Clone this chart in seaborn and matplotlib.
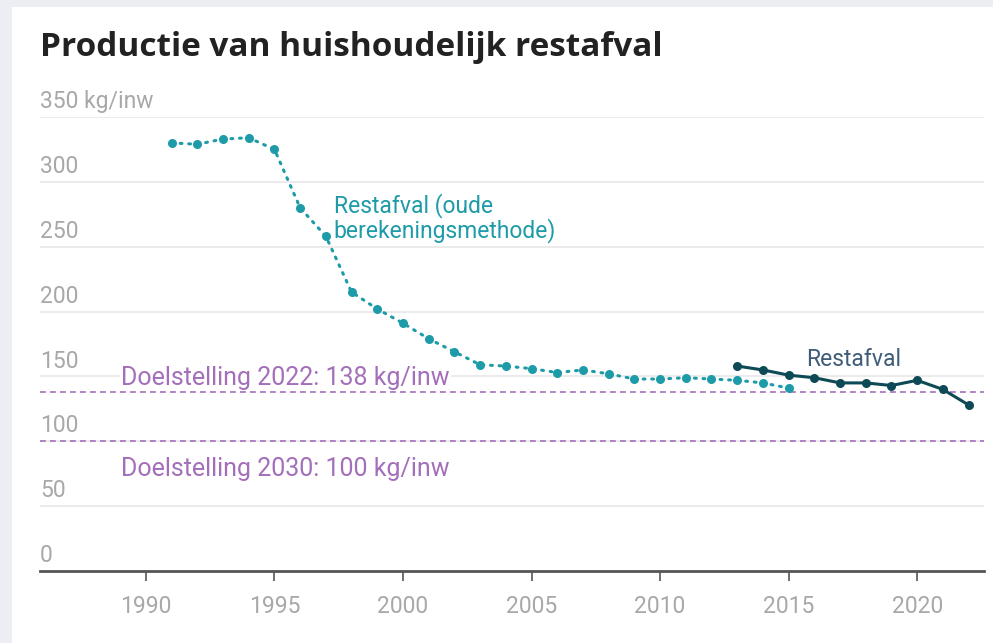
import pandas as pd
import numpy as np
import matplotlib
matplotlib.use('Agg')
import matplotlib.pyplot as plt
import matplotlib.transforms as mtransforms
from matplotlib.patches import Rectangle
import seaborn as sns

# Data
years_old = list(range(1991, 2016))
restafval_old = [330, 329, 333, 334, 325, 280, 258, 215, 202, 191, 179, 169, 159,
                 158, 156, 153, 155, 152, 148, 148, 149, 148, 147, 145, 141]
years_new = list(range(2013, 2023))
restafval_new = [158, 155, 151, 149, 145, 145, 143, 147, 140, 128]
y_ticks = [0, 50, 100, 150, 200, 250, 300, 350]
x_ticks = [1990, 1995, 2000, 2005, 2010, 2015, 2020]
target_2022 = 138
target_2030 = 100

TEAL = '#1d9ba8'
DARK = '#0e4a55'
SLATE = '#3f5d78'
PURPLE = '#a46fba'
GREY = '#a8a8a8'
FS = 16.5

sns.set_style('white')
plt.rcParams['font.family'] = ['Roboto', 'DejaVu Sans']

df_old = pd.DataFrame({'jaar': years_old, 'kg': restafval_old})
df_new = pd.DataFrame({'jaar': years_new, 'kg': restafval_new})

fig = plt.figure(figsize=(9.93, 6.43), dpi=100)
fig.patch.set_facecolor('#eceef3')
# white card behind the chart
fig.patches.append(Rectangle((12 / 993, 0), 1, 1 - 7 / 643, transform=fig.transFigure,
                             facecolor='white', edgecolor='none', zorder=-10))

ax = fig.add_axes([40 / 993, 1 - 571 / 643, (984 - 40) / 993, (571 - 117) / 643])
ax.set_facecolor('none')
ax.set_zorder(2)

# gridlines
for v in y_ticks[1:]:
    ax.axhline(v, color='#e6e6e6', lw=1.1, zorder=1)

# targets
ax.axhline(target_2022, color=PURPLE, lw=1.2, ls=(0, (3.5, 2.5)), zorder=2)
ax.axhline(target_2030, color=PURPLE, lw=1.2, ls=(0, (3.5, 2.5)), zorder=2)

sns.lineplot(data=df_old, x='jaar', y='kg', ax=ax, color=TEAL, lw=2.2,
             ls=(0, (0.6, 2.2)), marker='o', markersize=6.5, markeredgewidth=0,
             dash_capstyle='round', zorder=4)
sns.lineplot(data=df_new, x='jaar', y='kg', ax=ax, color=DARK, lw=2.2,
             marker='o', markersize=6.5, markeredgewidth=0, zorder=5)

ax.set_xlim(1985.88, 2022.6)
ax.set_ylim(0, 350)
ax.set_xticks(x_ticks)
ax.set_yticks([])
ax.set_xlabel('')
ax.set_ylabel('')
for s in ['top', 'right', 'left']:
    ax.spines[s].set_visible(False)
ax.spines['bottom'].set_color('#555555')
ax.spines['bottom'].set_linewidth(2)
ax.tick_params(axis='x', bottom=True, direction='out', colors='#555555', length=7,
               width=1.2, pad=10, labelsize=FS, labelcolor=GREY)

# y labels above the gridlines
trans = mtransforms.blended_transform_factory(ax.transAxes, ax.transData)
for v in y_ticks:
    lab = f'{v} kg/inw' if v == 350 else str(v)
    ax.text(0, v + 3, lab, transform=trans, ha='left', va='bottom',
            fontsize=FS, color=GREY)

# annotations
ax.text(1997.3, 272, 'Restafval (oude\nberekeningsmethode)', color=TEAL,
        fontsize=FS, ha='left', va='center', linespacing=1.0)
ax.text(2015.7, 163, 'Restafval', color=SLATE, fontsize=FS, ha='left', va='center')
ax.text(1989.05, 149, 'Doelstelling 2022: 138 kg/inw', color=PURPLE, fontsize=18,
        ha='left', va='center',
        bbox=dict(facecolor='white', edgecolor='none', pad=1.0), zorder=3)
ax.text(1989.05, 79, 'Doelstelling 2030: 100 kg/inw', color=PURPLE, fontsize=18,
        ha='left', va='center')

fig.text(40 / 993, 1 - 47 / 643, 'Productie van huishoudelijk restafval',
         fontsize=24, fontweight='bold', color='#222222', ha='left', va='center',
         family=['Open Sans', 'DejaVu Sans'])

fig.savefig('out.png', dpi=100)
